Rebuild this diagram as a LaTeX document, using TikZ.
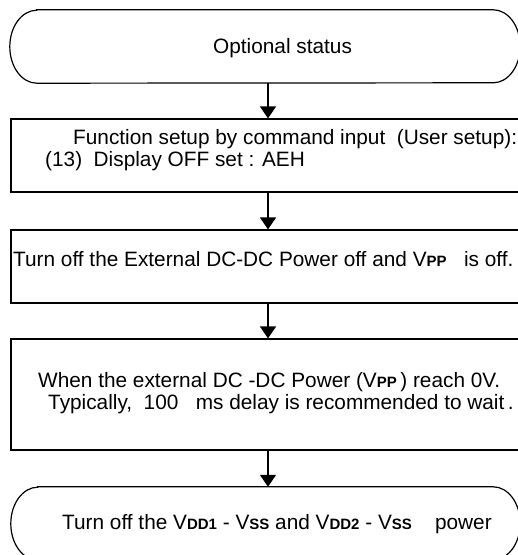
\documentclass[tikz,border=0pt]{standalone}
\usepackage{fontspec}
\setmainfont{Liberation Sans}
\usetikzlibrary{arrows.meta,positioning}

\newcommand{\vsub}[1]{{\fontsize{15}{15}\selectfont\bfseries #1}}

\tikzset{
    stepbox/.style={draw, line width=1.2pt, minimum width=514pt, inner sep=0pt},
    termbox/.style={minimum height=73pt, inner sep=0pt},
    termline/.style={line width=1.2pt},
    flowtext/.style={anchor=base west, inner sep=0pt, font=\fontsize{20.8}{22}\selectfont},
    flowarrow/.style={line width=1.5pt, -{Triangle[width=16pt,length=12pt]}},
}

\begin{document}
\begin{tikzpicture}[x=1pt, y=1pt]
    \useasboundingbox (0,0) rectangle (518,555);
    \clip (0,0) rectangle (518,555);

    % start
    \node[termbox, minimum width=510pt] (optional) at (265,508.5) {};
    \draw[termline] ([xshift=27pt]optional.north west) -- ([xshift=-27pt]optional.north east)
        arc[start angle=90, end angle=-90, x radius=27, y radius=36.5]
        -- ([xshift=27pt]optional.south west)
        arc[start angle=270, end angle=90, x radius=27, y radius=36.5] -- cycle;
    \node[flowtext] (optionaltxt) at (213,501) {Optional status};

    % steps
    \node[stepbox, minimum height=73pt] (setup) at (268,399.5) {};
    \node[flowtext] (setuptxta) at (73,410) {Function setup by command input\ \ (User setup):};
    \node[flowtext] (setuptxtb) at (45,388) {(13)\ \ Display OFF set : AEH};

    \node[stepbox, minimum height=73pt] (dcoff) at (268,288.5) {};
    \node[flowtext] (dcofftxt) at (13,288) {Turn off the External DC-DC Power off and V\vsub{PP}\ \ \ is off.};

    \node[stepbox, minimum height=111pt] (delay) at (268,160.5) {};
    \node[flowtext] (delaytxta) at (38,167) {When the external DC\ -DC Power (V\vsub{PP}\,)\ reach 0V.};
    \node[flowtext] (delaytxtb) at (48,145) {Typically,\ \ 100\ \ \ ms delay is recommended to wait\,.};

    % end
    \node[termbox, minimum width=509pt] (poweroff) at (265.5,31.5) {};
    \draw[termline] ([xshift=27pt]poweroff.north west) -- ([xshift=-27pt]poweroff.north east)
        arc[start angle=90, end angle=-90, x radius=27, y radius=36.5]
        -- ([xshift=27pt]poweroff.south west)
        arc[start angle=270, end angle=90, x radius=27, y radius=36.5] -- cycle;
    \node[flowtext] (powerofftxt) at (62,25) {Turn off the V\vsub{DD1} - V\vsub{SS} and V\vsub{DD2} - V\vsub{SS}\ \ \ \ power};

    % arrows
    \draw[flowarrow] (optional.south -| setup.north) -- (setup.north);
    \draw[flowarrow] (setup.south) -- (dcoff.north);
    \draw[flowarrow] (dcoff.south) -- (delay.north);
    \draw[flowarrow] (delay.south) -- (poweroff.north -| delay.south);
\end{tikzpicture}
\end{document}
